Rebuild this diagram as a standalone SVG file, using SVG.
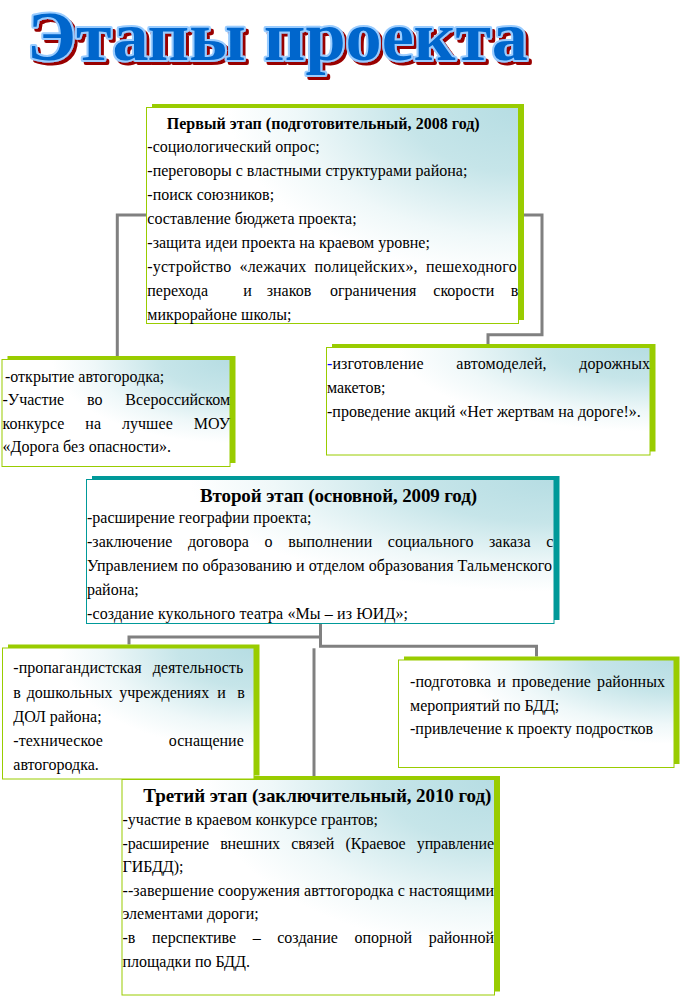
<svg xmlns="http://www.w3.org/2000/svg" width="682" height="1008" viewBox="0 0 682 1008">
<defs>
<radialGradient id="g" cx="1" cy="0" r="1" fx="1" fy="0">
<stop offset="0" stop-color="#b6dde3"/>
<stop offset="0.3" stop-color="#c6e5e9"/>
<stop offset="0.6" stop-color="#eff8f9"/>
<stop offset="0.78" stop-color="#ffffff"/>
</radialGradient>
<filter id="ts" x="-5%" y="-20%" width="115%" height="150%">
<feOffset in="SourceAlpha" dx="3" dy="3" result="o"/>
<feFlood flood-color="#990000"/>
<feComposite in2="o" operator="in" result="s"/>
<feMerge><feMergeNode in="s"/><feMergeNode in="SourceGraphic"/></feMerge>
</filter>
<style>
.t{font-family:"Liberation Serif","Times New Roman",serif;font-size:16px;fill:#000}
.h{font-weight:bold}
.h19{font-weight:bold;font-size:19px}
.sh{fill:#99cc00}
.shT{fill:#009999}
.bx{fill:url(#g);stroke:#99cc00;stroke-width:1}
.bxT{fill:url(#g);stroke:#009999;stroke-width:1}
.c{fill:none;stroke:#808080;stroke-width:3;stroke-linejoin:miter}
.ttl{font-family:"Liberation Serif","Times New Roman",serif;font-weight:bold;font-size:70px}
</style>
</defs>
<rect width="682" height="1008" fill="#ffffff"/>

<g id="title">
<text class="ttl" x="27" y="60" textLength="501" lengthAdjust="spacingAndGlyphs" fill="#0066cc" stroke="#99ccff" stroke-width="4" stroke-linejoin="round" paint-order="stroke" filter="url(#ts)">Этапы проекта</text>
</g>

<g id="connectors">
<path class="c" d="M117.3 356 V215 H542 V334.7 H488 V344"/>
<path class="c" d="M129 644.5 V637 H320.5"/>
<path class="c" d="M320.5 623.5 V646.3 H536.5 V656.5"/>
<path class="c" d="M314 648.3 V776"/>
</g>

<g id="stage1">
<rect class="sh" x="152" y="104" width="372" height="216"/>
<rect class="bx" x="146.5" y="107.5" width="372" height="216"/>
<text class="t h" x="166.7" y="129" textLength="313" lengthAdjust="spacing">Первый этап (подготовительный, 2008 год)</text>
<text class="t" x="147.3" y="152.4">-социологический опрос;</text>
<text class="t" x="147.3" y="176.4">-переговоры с властными структурами района;</text>
<text class="t" x="147.3" y="200.3">-поиск союзников;</text>
<text class="t" x="147.3" y="224.2">составление бюджета проекта;</text>
<text class="t" x="147.3" y="248.1">-защита идеи проекта на краевом уровне;</text>
<text class="t" x="147.3" y="272" word-spacing="3.9" textLength="369.4" lengthAdjust="spacing">-устройство «лежачих полицейских», пешеходного</text>
<text class="t" y="296"><tspan x="147.3">перехода</tspan><tspan x="243.3">и</tspan><tspan x="266.7">знаков</tspan><tspan x="330">ограничения</tspan><tspan x="433.3">скорости</tspan><tspan x="510.7">в</tspan></text>
<text class="t" x="147.3" y="319.9">микрорайоне школы;</text>
</g>

<g id="stage1-left">
<rect class="sh" x="7.5" y="356" width="228" height="107"/>
<rect class="bx" x="2" y="359.5" width="228" height="107"/>
<text class="t" x="5" y="381.7">-открытие автогородка;</text>
<text class="t" x="2.5" y="405" word-spacing="18.9" textLength="227.5" lengthAdjust="spacing">-Участие во Всероссийском</text>
<text class="t" x="2.5" y="428.5" word-spacing="16.8" textLength="227.5" lengthAdjust="spacing">конкурсе на лучшее МОУ</text>
<text class="t" x="2.5" y="452">«Дорога без опасности».</text>
</g>

<g id="stage1-right">
<rect class="sh" x="332" y="344" width="323.5" height="107.5"/>
<rect class="bx" x="326.5" y="347.5" width="323.5" height="107.5"/>
<text class="t" x="327" y="368.5" word-spacing="28.6" textLength="323" lengthAdjust="spacing"><tspan fill="#0000ff">-</tspan>изготовление автомоделей, дорожных</text>
<text class="t" x="327" y="393">макетов;</text>
<text class="t" x="327" y="417">-проведение акций «Нет жертвам на дороге!».</text>
</g>

<g id="stage2">
<rect class="shT" x="92" y="476" width="467.5" height="144"/>
<rect class="bxT" x="86.5" y="479.5" width="467.5" height="144"/>
<text class="t h19" x="200" y="502" textLength="277" lengthAdjust="spacing">Второй этап (основной, 2009 год)</text>
<text class="t" x="87" y="523.3">-расширение географии проекта;</text>
<text class="t" x="87" y="547.3" word-spacing="11.6" textLength="466.3" lengthAdjust="spacing">-заключение договора о выполнении социального заказа с</text>
<text class="t" x="87" y="571.3" textLength="465" lengthAdjust="spacing">Управлением по образованию и отделом образования Тальменского</text>
<text class="t" x="87" y="595">района;</text>
<text class="t" x="87" y="618.5" textLength="321" lengthAdjust="spacing">-создание кукольного театра «Мы – из ЮИД»;</text>
</g>

<g id="stage3">
<rect class="sh" x="127.5" y="776" width="372.5" height="215.5"/>
<rect class="bx" x="122" y="779.5" width="372.5" height="215.5"/>
<text class="t h19" x="143.3" y="802" textLength="348" lengthAdjust="spacing">Третий этап (заключительный, 2010 год)</text>
<text class="t" x="122.5" y="825">-участие в краевом конкурсе грантов;</text>
<text class="t" x="122.5" y="848.6" word-spacing="7.35" textLength="371.5" lengthAdjust="spacing">-расширение внешних связей (Краевое управление</text>
<text class="t" x="122.5" y="872.2">ГИБДД);</text>
<text class="t" x="122.5" y="895.8" textLength="371.5" lengthAdjust="spacing">--завершение сооружения авттогородка с настоящими</text>
<text class="t" x="122.5" y="919.4">элементами дороги;</text>
<text class="t" x="122.5" y="943" word-spacing="12.6" textLength="371.5" lengthAdjust="spacing">-в перспективе – создание опорной районной</text>
<text class="t" x="122.5" y="966.6">площадки по БДД.</text>
</g>

<g id="stage2-left">
<rect class="sh" x="8" y="644.5" width="251.5" height="131"/>
<rect class="bx" x="2.5" y="648" width="251.5" height="131"/>
<text class="t" x="13.3" y="673.3" word-spacing="7.1" textLength="230" lengthAdjust="spacing">-пропагандистская деятельность</text>
<text class="t" y="697.7"><tspan x="13.3">в</tspan><tspan x="26.7">дошкольных</tspan><tspan x="119.3">учреждениях</tspan><tspan x="217.3">и</tspan><tspan x="237.3">в</tspan></text>
<text class="t" x="13.3" y="722.3">ДОЛ района;</text>
<text class="t" x="13.3" y="746" word-spacing="61.9" textLength="230.5" lengthAdjust="spacing">-техническое оснащение</text>
<text class="t" x="13.3" y="770">автогородка.</text>
</g>

<g id="stage2-right">
<rect class="sh" x="404" y="656.5" width="275.5" height="107.5"/>
<rect class="bx" x="398.5" y="660" width="275.5" height="107.5"/>
<text class="t" x="410" y="686.5" word-spacing="2.1" textLength="255" lengthAdjust="spacing">-подготовка и проведение районных</text>
<text class="t" x="410" y="710.5">мероприятий по БДД;</text>
<text class="t" x="410" y="734">-привлечение к проекту подростков</text>
</g>
</svg>
